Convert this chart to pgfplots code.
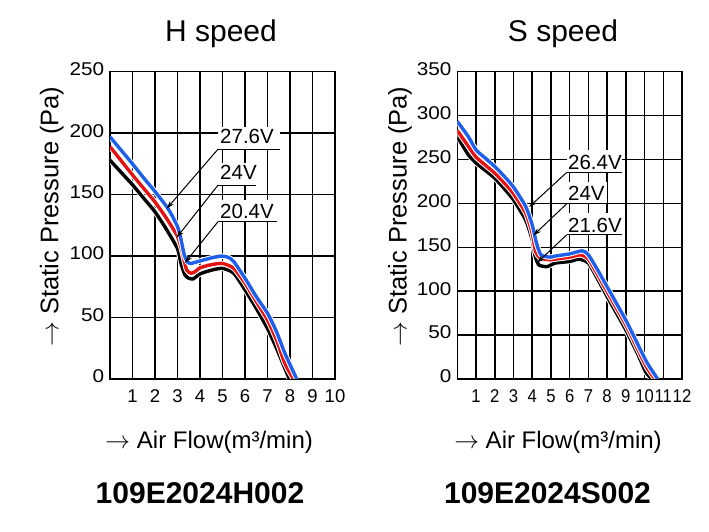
\documentclass[border=0pt]{standalone}
\usepackage{fontspec}
\setmainfont{Liberation Sans}
\usepackage{pgfplots}
\usepackage{pgfplotstable}
\pgfplotsset{compat=1.18}
\usetikzlibrary{arrows.meta}
\definecolor{cblue}{RGB}{30,95,235}
\definecolor{cred}{RGB}{228,20,20}
\newcommand{\fs}[1]{\fontsize{#1bp}{#1bp}\selectfont}

% ---------- H speed data ----------
\pgfplotstableread{
x y
0 197
0.5 186
1 175
1.5 163.5
2 152.5
2.6 138
3.0 124
3.15 114
3.3 101
3.45 95
3.6 94
3.8 95
4.0 96
4.5 98.5
4.95 100
5.25 99
5.5 95.5
6 82
6.5 67
7 53.5
7.4 38.5
7.77 21
8.3 0
}\Hblue
\pgfplotstableread{
x y
0 189
0.5 177.5
1 166
1.5 155
2 144
2.5 131
3 116
3.2 104
3.4 89
3.6 86
3.8 87.5
4.0 90.5
4.5 93
5 94
5.5 90
6 78
6.5 63
7 48
7.4 31.8
7.77 12.8
8.15 0
}\Hred
\pgfplotstableread{
x y
0 178
0.5 168
1 158
1.5 147
2 136
2.5 122
3 106
3.15 94.3
3.33 84.7
3.5 82
3.7 81.5
4.0 85.5
4.5 88.5
5 90
5.5 86
6 72.5
6.5 57.5
7 41
7.4 25
7.77 8.7
7.97 0
}\Hblack
% ---------- S speed data ----------
\pgfplotstableread{
x y
0 293.4
0.59 276
1 261
1.5 251.5
2 242
2.5 231
3 218.6
3.65 196.5
4 175.6
4.23 154.7
4.47 141.4
4.97 138.8
5.22 140
6 142.5
6.67 146
7 141.4
7.5 124
8 105
9 67
9.7 36.8
10.15 17.9
10.7 0
}\Sblue
\pgfplotstableread{
x y
0 283
0.59 265
1 252.8
1.5 243.5
2 234.5
2.5 223.5
3 211
3.65 189
4 166
4.18 145
4.45 137.6
4.97 135.7
5.22 136.5
6 138.8
6.58 141.4
7 136.5
7.5 118.6
8 99.5
9 61.6
9.7 31
10.15 12
10.56 0
}\Sred
\pgfplotstableread{
x y
0 276
0.59 255.4
1 246
1.5 237.5
2 228.8
2.5 217
3 204
3.65 181
4 158.5
4.14 141.4
4.35 130
4.8 128
5.22 132
6 133.8
6.5 136.5
7 132
7.5 113.6
8 93.9
9 55.9
9.7 25.5
10.05 8.4
10.38 0
}\Sblack

\pgfplotsset{fanstyle/.style={
  scale only axis, anchor=south west,
  height=307.3bp,
  ymin=0, xmin=0,
  axis line style={line width=1.6bp},
  grid=major, major grid style={black, line width=1.5bp},
  tick style={draw=none},
  /pgf/number format/assume math mode=true,
  tick label style={font=\fs{18.5}},
  xticklabel style={font=\fs{18.5}, anchor=base, inner sep=0pt, yshift=-23.7bp},
  yticklabel style={font=\fs{18.5}, xscale=1.12, anchor=east, inner sep=0pt, xshift=-5bp, yshift=2.5bp},
  every axis plot/.append style={smooth, tension=0.4},
}}
\tikzset{
  casing/.style={white, line width=5.4bp},
  curve/.style={line width=3.4bp},
  lbl/.style={anchor=base west, inner sep=0pt, font=\fs{20.5}},
  arr/.style={line width=1bp, -{Stealth[length=8bp,width=5bp]}},
}

\begin{document}
\begin{tikzpicture}
\path[fill=white] (0,0) rectangle (709bp,532bp);

% ================= H speed =================
\begin{axis}[fanstyle, at={(110bp,153bp)}, width=225bp,
  xmax=10, ymax=250, xtick={1,...,10}, ytick={0,50,...,250}]
\addplot[casing] table {\Hblack};
\addplot[curve, black] table {\Hblack};
\addplot[casing] table {\Hred};
\addplot[curve, cred] table {\Hred};
\addplot[casing] table {\Hblue};
\addplot[curve, cblue] table {\Hblue};
% labels
\fill[white] (axis cs:4.8,187) rectangle (axis cs:7.56,205.4);
\node[lbl] at (axis cs:4.89,191.9) {27.6V};
\draw[line width=1bp] (axis cs:4.8,187) -- (axis cs:7.56,187);
\draw[arr] (axis cs:4.8,187) -- (axis cs:2.52,138.6);
\fill[white] (axis cs:4.8,157.7) rectangle (axis cs:6.49,175.5);
\node[lbl] at (axis cs:4.89,162) {24V};
\draw[line width=1bp] (axis cs:4.8,157.7) -- (axis cs:6.49,157.7);
\draw[arr] (axis cs:4.8,157.7) -- (axis cs:2.96,115);
\fill[white] (axis cs:4.8,128) rectangle (axis cs:7.4,145.8);
\node[lbl] at (axis cs:4.89,130.9) {20.4V};
\draw[line width=1bp] (axis cs:4.8,128) -- (axis cs:7.4,128);
\draw[arr] (axis cs:4.8,128) -- (axis cs:3.33,94.5);
\end{axis}

% ================= S speed =================
\begin{axis}[fanstyle, at={(457.3bp,153bp)}, width=224.7bp,
  xmax=12, ymax=350, xtick={1,...,12}, ytick={0,50,...,350},
  xticklabel style={xscale=0.9}]
\addplot[casing] table {\Sblack};
\addplot[curve, black] table {\Sblack};
\addplot[casing] table {\Sred};
\addplot[curve, cred] table {\Sred};
\addplot[casing] table {\Sblue};
\addplot[curve, cblue] table {\Sblue};
% labels
\fill[white] (axis cs:5.84,235.2) rectangle (axis cs:8.78,260.3);
\node[lbl] at (axis cs:5.91,238.6) {26.4V};
\draw[line width=1bp] (axis cs:5.84,235.2) -- (axis cs:8.78,235.2);
\draw[arr] (axis cs:5.84,235.2) -- (axis cs:3.84,196);
\fill[white] (axis cs:5.84,199.5) rectangle (axis cs:8.0,224.6);
\node[lbl] at (axis cs:5.91,202.9) {24V};
\draw[line width=1bp] (axis cs:5.84,199.5) -- (axis cs:8.0,199.5);
\draw[arr] (axis cs:5.84,199.5) -- (axis cs:4.06,163.5);
\fill[white] (axis cs:5.84,164.2) rectangle (axis cs:8.78,189.3);
\node[lbl] at (axis cs:5.91,166.6) {21.6V};
\draw[line width=1bp] (axis cs:5.84,164.2) -- (axis cs:8.78,164.2);
\draw[arr] (axis cs:5.84,164.2) -- (axis cs:4.27,132.5);
\end{axis}

% ================= texts =================
\node[anchor=base, font=\fs{30}] at (221bp,490.3bp) {H speed};
\node[anchor=base, font=\fs{30}] at (563bp,490.3bp) {S speed};
\node[anchor=base, rotate=90, font=\fs{25.5}] at (58.3bp,315.5bp) {$\rightarrow$ Static Pressure (Pa)};
\node[anchor=base, rotate=90, font=\fs{25.5}] at (406.7bp,315.5bp) {$\rightarrow$ Static Pressure (Pa)};
\node[anchor=base, font=\fs{24}] at (209.2bp,83.7bp) {$\rightarrow$ Air Flow(m³/min)};
\node[anchor=base, font=\fs{24}] at (558bp,83.7bp) {$\rightarrow$ Air Flow(m³/min)};
\node[anchor=base, font=\fs{30}\bfseries] at (200bp,28.7bp) {109E2024H002};
\node[anchor=base, font=\fs{30}\bfseries] at (547.5bp,28.7bp) {109E2024S002};

\pgfresetboundingbox
\path[use as bounding box] (0,0) rectangle (709bp,532bp);
\end{tikzpicture}
\end{document}
